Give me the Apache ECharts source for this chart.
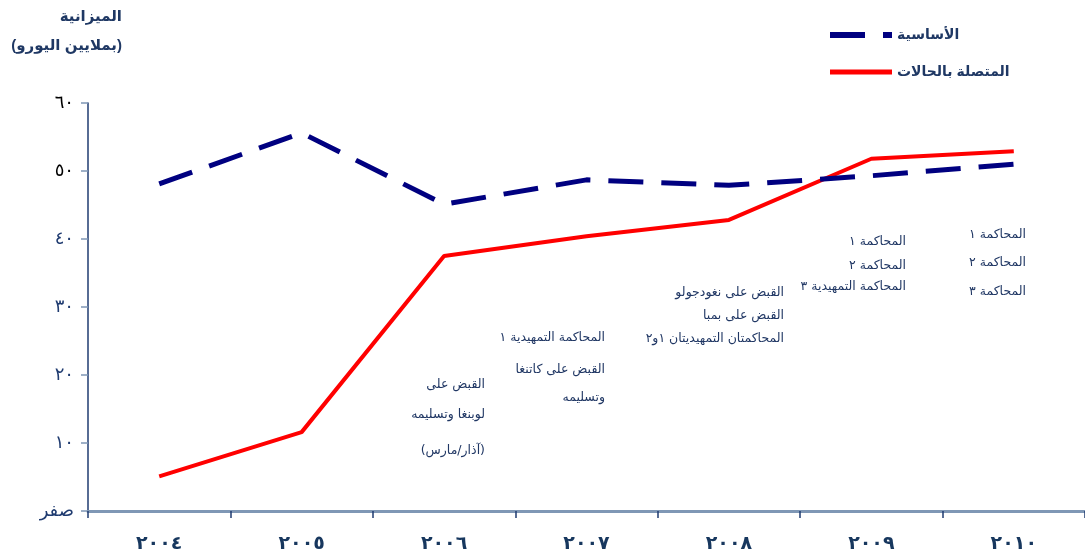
<!DOCTYPE html>
<html>
<head>
<meta charset="utf-8">
<script src="https://cdn.jsdelivr.net/npm/echarts@6/dist/echarts.min.js"></script>
<style>
html,body{margin:0;padding:0;background:#fff;}
#main{width:1085px;height:558px;direction:rtl;}
</style>
</head>
<body>
<div id="main"></div>
<script>
var years = ['٢٠٠٤','٢٠٠٥','٢٠٠٦','٢٠٠٧','٢٠٠٨','٢٠٠٩','٢٠١٠'];
var seriesNames = ['الأساسية', 'المتصلة بالحالات'];
var baseBudget = [48.1, 55.6, 45.1, 48.7, 47.9, 49.3, 51.0];
var caseBudget = [5.1, 11.6, 37.5, 40.4, 42.8, 51.8, 52.9];
var yTickLabels = {0:'صفر',10:'١٠',20:'٢٠',30:'٣٠',40:'٤٠',50:'٥٠',60:'٦٠'};
var titleLines = ['الميزانية', '(بملايين اليورو)'];
var notes2006 = ['القبض على', 'لوبنغا وتسليمه', '(آذار/مارس)'];
var notes2007 = ['المحاكمة التمهيدية ١', 'القبض على كاتنغا', 'وتسليمه'];
var notes2008 = ['القبض على نغودجولو', 'القبض على بمبا', 'المحاكمتان التمهيديتان ١و٢'];
var notes2009 = ['المحاكمة ١', 'المحاكمة ٢', 'المحاكمة التمهيدية ٣'];
var notes2010 = ['المحاكمة ١', 'المحاكمة ٢', 'المحاكمة ٣'];

var navy = '#1f3864';
var chart = echarts.init(document.getElementById('main'));

function noteBlock(lines, right, ys) {
  return lines.map(function (t, i) {
    return {
      type: 'text', x: right, y: ys[i],
      style: { text: t, align: 'right', verticalAlign: 'middle',
        font: '12.5px "DejaVu Sans", sans-serif', fill: '#203764' }
    };
  });
}

var graphics = [
  { type: 'text', x: 122, y: 17, style: { text: titleLines[0], align: 'right', verticalAlign: 'middle', font: 'bold 15px "Liberation Sans", Arial, "DejaVu Sans", sans-serif', fill: navy } },
  { type: 'text', x: 122, y: 46, style: { text: titleLines[1], align: 'right', verticalAlign: 'middle', font: 'bold 15px "Liberation Sans", Arial, "DejaVu Sans", sans-serif', fill: navy } }
].concat(
  noteBlock(notes2006, 485, [385, 415, 451]),
  noteBlock(notes2007, 605, [338, 370, 398]),
  noteBlock(notes2008, 784, [293, 316, 339]),
  noteBlock(notes2009, 906, [242, 266, 287]),
  noteBlock(notes2010, 1026, [235, 263, 292])
);

chart.setOption({
  animation: false,
  backgroundColor: '#fff',
  grid: { left: 88, right: 0, top: 103, bottom: 47, containLabel: false },
  legend: {
    orient: 'vertical', left: 827, top: 28, padding: 0, itemWidth: 62, itemHeight: 14, itemGap: 23,
    align: 'left',
    itemStyle: { opacity: 0 },
    textStyle: { fontFamily: '"Liberation Sans", Arial, "DejaVu Sans", sans-serif', fontWeight: 'bold', fontSize: 14, color: navy },
    data: [
      { name: seriesNames[0], lineStyle: { width: 6 } },
      { name: seriesNames[1], lineStyle: { width: 5 } }
    ]
  },
  xAxis: {
    type: 'category', data: years, boundaryGap: true,
    axisLine: { lineStyle: { color: '#7f97b5', width: 3 } },
    axisTick: { show: true, length: 7, lineStyle: { color: '#1f3b70', width: 1.5 } },
    axisLabel: { margin: 24, fontSize: 19, fontWeight: 'bold', color: '#17375e', fontFamily: '"DejaVu Serif", "DejaVu Sans", serif' }
  },
  yAxis: {
    type: 'value', min: 0, max: 60, interval: 10,
    splitLine: { show: false },
    axisLine: { show: true, lineStyle: { color: '#1f3b70', width: 1.5 } },
    axisTick: { show: true, length: 7, lineStyle: { color: '#7f97b5', width: 1.5 } },
    axisLabel: {
      margin: 14, fontSize: 18, fontFamily: '"DejaVu Serif", "DejaVu Sans", serif',
      formatter: function (v) { return yTickLabels[v]; },
      color: function (v) { return (+v >= 50) ? '#000000' : '#1f3b70'; }
    }
  },
  series: [
    { name: seriesNames[0], type: 'line', data: baseBudget, symbol: 'none', z: 3,
      lineStyle: { color: '#000080', width: 5, type: [35, 18], cap: 'butt' }, itemStyle: { color: '#000080' } },
    { name: seriesNames[1], type: 'line', data: caseBudget, symbol: 'none', z: 2,
      lineStyle: { color: '#ff0000', width: 4 }, itemStyle: { color: '#ff0000' } }
  ],
  graphic: graphics
});
</script>
</body>
</html>
